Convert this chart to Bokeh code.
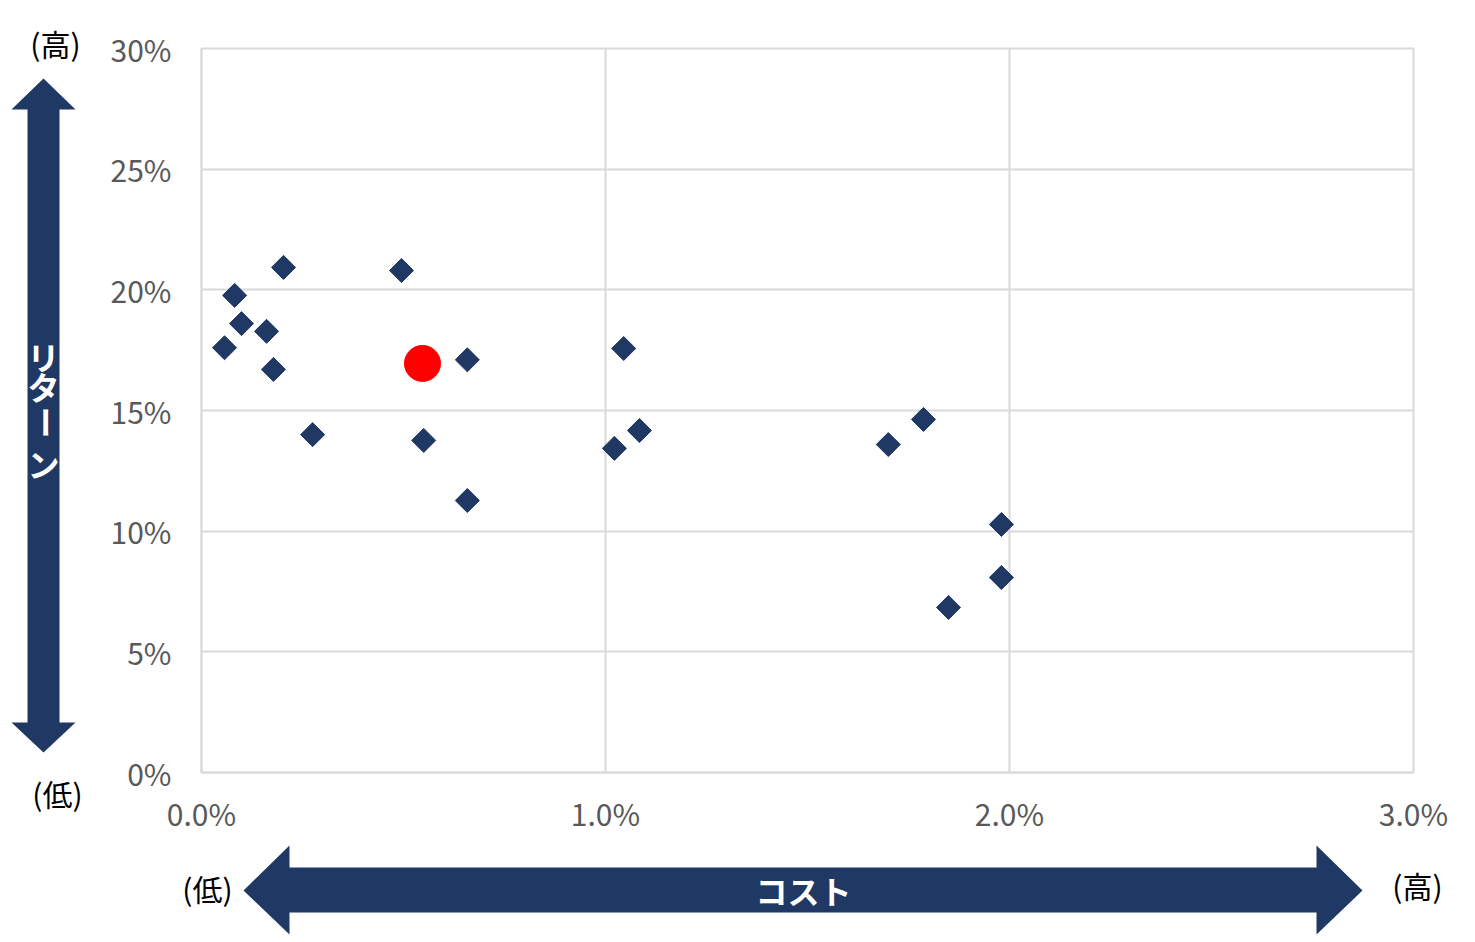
from bokeh.plotting import figure
from bokeh.layouts import row, column
from bokeh.models import NumeralTickFormatter, FixedTicker, Range1d, ColumnDataSource
from bokeh.core.properties import value
from bokeh.embed import file_html
from bokeh.resources import INLINE

# Data: cost (fee) vs return
cost = [0.00057, 0.00082, 0.00099, 0.00161, 0.00178, 0.00203, 0.00275,
        0.00495, 0.00550, 0.00658, 0.00658, 0.01022, 0.01045, 0.01084,
        0.01700, 0.01787, 0.01980, 0.01980, 0.01849]
ret = [0.176, 0.1977, 0.186, 0.1828, 0.167, 0.2093, 0.140,
       0.208, 0.1376, 0.171, 0.1127, 0.1343, 0.1757, 0.1417,
       0.1359, 0.1463, 0.1028, 0.0808, 0.0684]
hl_cost = [0.00547]
hl_ret = [0.1695]

x_ticks = [0, 0.01, 0.02, 0.03]
y_ticks = [0, 0.05, 0.10, 0.15, 0.20, 0.25, 0.30]

NAVY = "#203864"
GRID = "#d9d9d9"
FONT = "Noto Sans CJK JP"

LEFT_W = 100     # width of the left decoration strip
TOTAL_W = 1467
TOTAL_H = 936
MAIN_H = 840

# main scatter plot
p = figure(width=TOTAL_W - LEFT_W, height=MAIN_H, frame_width=1212, frame_height=724,
           min_border_left=101, min_border_right=54, min_border_top=48,
           min_border_bottom=68, output_backend="svg", toolbar_location=None,
           x_range=Range1d(0, 0.03), y_range=Range1d(0, 0.30))

p.outline_line_color = GRID
p.outline_line_width = 2
for ax in (p.xaxis, p.yaxis):
    ax.axis_line_color = GRID
    ax.axis_line_width = 2
    ax.major_tick_line_color = None
    ax.minor_tick_line_color = None
    ax.major_label_text_color = "#595959"
    ax.major_label_text_font = FONT
    ax.major_label_text_font_size = "30px"
p.xaxis.ticker = FixedTicker(ticks=x_ticks)
p.yaxis.ticker = FixedTicker(ticks=y_ticks)
p.xaxis.formatter = NumeralTickFormatter(format="0.0%")
p.yaxis.formatter = NumeralTickFormatter(format="0%")
p.xaxis.major_label_standoff = 12
p.yaxis.major_label_standoff = 24
p.grid.grid_line_color = GRID
p.grid.grid_line_width = 2
p.xgrid.ticker = FixedTicker(ticks=x_ticks)
p.ygrid.ticker = FixedTicker(ticks=y_ticks)

src = ColumnDataSource(dict(x=cost, y=ret))
p.scatter("x", "y", source=src, marker="square", size=17, angle=0.785398,
          fill_color=NAVY, line_color=NAVY)
p.scatter(hl_cost, hl_ret, marker="circle", size=36, fill_color="#ff0000",
          line_color="#ff0000")


def deco_fig(w, h, x0, y0):
    # blank figure whose data coordinates are page pixels (y downwards)
    f = figure(width=w, height=h, x_range=Range1d(x0, x0 + w),
               y_range=Range1d(y0 + h, y0), min_border=0,
               x_axis_location=None, y_axis_location=None,
               output_backend="svg", toolbar_location=None)
    f.grid.visible = False
    f.outline_line_color = None
    return f


def put_text(f, x, y, txt, color="black", size="30px", style="normal", angle=0.0):
    f.text([x], [y], text=[txt], text_color=color, text_font=value(FONT),
           text_font_size=size, text_font_style=style, text_align="center",
           text_baseline="middle", angle=angle)


# left strip: vertical "return" arrow
left = deco_fig(LEFT_W, MAIN_H, 0, 0)
left.patch([43, 75, 59, 59, 75, 43, 11, 27, 27, 11],
           [78, 109, 109, 722, 722, 752, 722, 722, 109, 109],
           fill_color=NAVY, line_color=None)
put_text(left, 55, 42, "(高)")
put_text(left, 57, 792, "(低)")
put_text(left, 43, 355, "リ", color="white", size="32px", style="bold")
put_text(left, 43, 385, "タ", color="white", size="32px", style="bold")
put_text(left, 43, 422, "ー", color="white", size="32px", style="bold", angle=1.5708)
put_text(left, 43, 462, "ン", color="white", size="32px", style="bold")

# bottom strip: horizontal "cost" arrow
bottom = deco_fig(TOTAL_W, TOTAL_H - MAIN_H, 0, MAIN_H)
bottom.patch([243, 289, 289, 1316, 1316, 1362, 1316, 1316, 289, 289],
             [890, 845, 867, 867, 845, 890, 934, 912, 912, 934],
             fill_color=NAVY, line_color=None)
put_text(bottom, 207, 887, "(低)")
put_text(bottom, 1417, 884, "(高)")
put_text(bottom, 803, 889, "コスト", color="white", size="32px", style="bold")

# wrap p in its own column so the strips are not frame-aligned with it
layout = column(row(left, column(p, spacing=0), spacing=0), bottom, spacing=0)

open("out.html", "w").write(file_html(layout, INLINE))
